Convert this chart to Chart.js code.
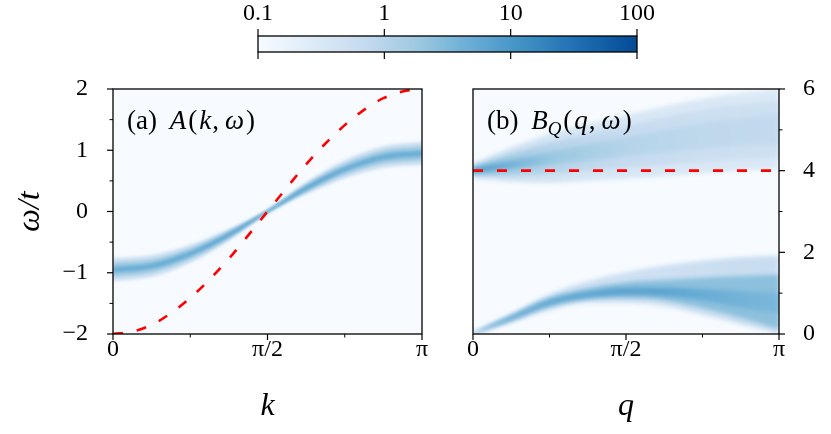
<!DOCTYPE html>
<html>
<head>
<meta charset="utf-8">
<script src="https://cdn.jsdelivr.net/npm/chart.js@4.4.1/dist/chart.umd.min.js"></script>
<style>
  html, body { margin: 0; padding: 0; background: #ffffff; }
  #wrap { position: relative; width: 831px; height: 434px; overflow: hidden; }
  #wrap canvas { position: absolute; left: 0; top: 0; }
</style>
</head>
<body>
<div id="wrap">
  <canvas id="cb" width="831" height="434"></canvas>
  <canvas id="pa" width="831" height="434"></canvas>
  <canvas id="pb" width="831" height="434"></canvas>
</div>
<script>
// ---------------- data ----------------
// colour scale (log norm)
const colorbarTicks = [0.1, 1, 10, 100];
const colorbarTickLabels = ['0.1', '1', '10', '100'];
const bluesStops = ['#f7fbff', '#deebf7', '#c6dbef', '#9ecae1', '#6baed6', '#4292c6', '#2171b5', '#08519c', '#08306b'];

// momentum grid, in units of π
const momentumGrid = [0, 0.125, 0.25, 0.375, 0.5, 0.625, 0.75, 0.875, 1];
const momentumTicks = [0, 0.5, 1];
const momentumTickLabels = ['0', 'π/2', 'π'];
const momentumMinorTicks = [0.25, 0.75];

// panel (a): A(k, ω)
const omegaTicksA = [-2, -1, 0, 1, 2];
const omegaMinorTicksA = [-1.5, -0.5, 0.5, 1.5];
const aBandCentre    = [-0.95, -0.89, -0.69, -0.38, 0.0, 0.38, 0.69, 0.89, 0.95];
const aHaloHalfWidth = [0.19, 0.18, 0.15, 0.10, 0.03, 0.10, 0.15, 0.18, 0.19];
const aMidHalfWidth  = [0.12, 0.11, 0.09, 0.06, 0.02, 0.06, 0.09, 0.11, 0.12];
const aCoreHalfWidth = [0.05, 0.05, 0.04, 0.03, 0.012, 0.03, 0.04, 0.05, 0.05];
const aHaloLevel = [0.5, 0.5, 0.5, 0.55, 0.7, 0.55, 0.5, 0.5, 0.5];
const aMidLevel  = [1.6, 1.6, 1.7, 2.2, 3.0, 2.2, 1.7, 1.6, 1.6];
const aCoreLevel = [4.5, 4.5, 5.0, 6.5, 10.0, 6.5, 5.0, 4.5, 4.5];
// free dispersion (red dashed)
const freeGrid = [0, 0.0625, 0.125, 0.1875, 0.25, 0.3125, 0.375, 0.4375, 0.5, 0.5625, 0.625, 0.6875, 0.75, 0.8125, 0.875, 0.9375, 1];
const freeDispersion = [-2, -1.96, -1.85, -1.66, -1.41, -1.11, -0.77, -0.39, 0, 0.39, 0.77, 1.11, 1.41, 1.66, 1.85, 1.96, 2];

// panel (b): B_Q(q, ω)
const omegaTicksB = [0, 2, 4, 6];
const omegaMinorTicksB = [1, 3, 5];
const bUpperCentre    = [4.0, 4.15, 4.3, 4.45, 4.58, 4.72, 4.85, 4.95, 5.02];
const bUpperHaloHW    = [0.18, 0.42, 0.6, 0.7, 0.78, 0.86, 0.92, 0.96, 0.98];
const bUpperMidHW     = [0.1, 0.26, 0.38, 0.45, 0.5, 0.58, 0.64, 0.68, 0.7];
const bUpperCoreHW    = [0.05, 0.1, 0.16, 0.2, 0.23, 0.27, 0.31, 0.35, 0.38];
const bUpperHaloLevel = [0.55, 0.45, 0.4, 0.36, 0.34, 0.32, 0.31, 0.3, 0.3];
const bUpperMidLevel  = [2.5, 1.5, 1.0, 0.8, 0.68, 0.6, 0.55, 0.52, 0.5];
const bUpperCoreLevel = [10, 4.0, 2.0, 1.4, 1.05, 0.9, 0.82, 0.77, 0.72];
const bLowerHaloTop    = [0.03, 0.5, 0.98, 1.3, 1.52, 1.68, 1.8, 1.88, 1.92];
const bLowerHaloBottom = [0.0, 0.28, 0.58, 0.76, 0.76, 0.68, 0.47, 0.24, 0.0];
const bLowerMidTop     = [0.02, 0.45, 0.88, 1.12, 1.27, 1.33, 1.38, 1.42, 1.45];
const bLowerMidBottom  = [0.0, 0.33, 0.67, 0.85, 0.88, 0.82, 0.63, 0.4, 0.12];
const bLowerCoreTop    = [0.01, 0.42, 0.82, 1.02, 1.13, 1.14, 1.1, 1.05, 1.0];
const bLowerCoreBottom = [0.0, 0.37, 0.73, 0.9, 0.96, 0.93, 0.82, 0.65, 0.5];
const bLowerHaloLevel = [0.6, 0.6, 0.55, 0.5, 0.5, 0.5, 0.55, 0.6, 0.6];
const bLowerMidLevel  = [3.0, 3.0, 2.8, 2.6, 2.5, 2.5, 2.5, 2.5, 2.5];
const bLowerCoreLevel = [8.0, 7.5, 7.0, 7.0, 7.0, 6.5, 5.0, 4.0, 3.4];
const bReferenceLevel = 4;

// ---------------- styling helpers ----------------
const FONT = "'Liberation Serif', serif";
const CMAP_TOP = 0.9;
Chart.defaults.font.family = FONT;
Chart.defaults.color = '#000000';

const bluesRgb = bluesStops.map(h => [parseInt(h.slice(1, 3), 16), parseInt(h.slice(3, 5), 16), parseInt(h.slice(5, 7), 16)]);
function cmap(v) {
  const lo = Math.log10(colorbarTicks[0]);
  const hi = Math.log10(colorbarTicks[colorbarTicks.length - 1]);
  let t = (Math.log10(v) - lo) / (hi - lo);
  t = Math.max(0, Math.min(1, t)) * CMAP_TOP;
  const p = t * (bluesRgb.length - 1);
  const i = Math.min(bluesRgb.length - 2, Math.floor(p));
  const f = p - i;
  const c = bluesRgb[i].map((a, j) => Math.round(a + (bluesRgb[i + 1][j] - a) * f));
  return 'rgb(' + c[0] + ',' + c[1] + ',' + c[2] + ')';
}
function levelGradient(chart, grid, levels) {
  const xs = chart.scales && chart.scales.x;
  if (!xs || !chart.chartArea) return cmap(levels[0]);
  const g0 = grid[0], g1 = grid[grid.length - 1];
  const g = chart.ctx.createLinearGradient(xs.getPixelForValue(g0), 0, xs.getPixelForValue(g1), 0);
  grid.forEach((q, i) => g.addColorStop((q - g0) / (g1 - g0), cmap(levels[i])));
  return g;
}
function bandLayer(grid, top, bottom, levels, order) {
  const common = { borderWidth: 0, borderColor: 'rgba(0,0,0,0)', pointRadius: 0, order: order,
                   cubicInterpolationMode: 'monotone' };
  return [
    Object.assign({ data: grid.map((x, i) => ({ x: x, y: top[i] })), fill: false }, common),
    Object.assign({ data: grid.map((x, i) => ({ x: x, y: bottom[i] })), fill: '-1',
      backgroundColor: ctx => levelGradient(ctx.chart, grid, levels) }, common)
  ];
}
const plus = (a, b) => a.map((v, i) => v + b[i]);
const minus = (a, b) => a.map((v, i) => v - b[i]);
const fmtNum = v => (v < 0 ? '\u2212' + Math.abs(v) : String(v));

// frame, tick marks, background; the spectral bands are drawn with a soft blur
function frameTicks(marks, background, blurPx) {
  return {
    id: 'frameTicks',
    beforeDraw(chart) {
      if (!background) return;
      const { ctx, chartArea: a } = chart;
      ctx.save();
      ctx.fillStyle = background;
      ctx.fillRect(a.left, a.top, a.right - a.left, a.bottom - a.top);
      ctx.restore();
    },
    beforeDatasetsDraw(chart) {
      if (blurPx) chart.ctx.filter = 'blur(' + blurPx + 'px)';
    },
    beforeDatasetDraw(chart, args) {
      if (args.meta.order === 0) chart.ctx.filter = 'none';
    },
    afterDatasetsDraw(chart) {
      const { ctx, chartArea: a } = chart;
      ctx.filter = 'none';
      ctx.save();
      ctx.strokeStyle = '#000000';
      marks.forEach(m => {
        const s = chart.scales[m.scale];
        ctx.lineWidth = m.width;
        m.values.forEach(v => {
          const p = s.getPixelForValue(v);
          ctx.beginPath();
          if (m.side === 'bottom') { ctx.moveTo(p, a.bottom); ctx.lineTo(p, a.bottom + m.len); }
          else if (m.side === 'top') { ctx.moveTo(p, a.top); ctx.lineTo(p, a.top - m.len); }
          else if (m.side === 'left') { ctx.moveTo(a.left, p); ctx.lineTo(a.left - m.len, p); }
          else if (m.side === 'right') { ctx.moveTo(a.right, p); ctx.lineTo(a.right + m.len, p); }
          ctx.stroke();
        });
      });
      ctx.lineWidth = 1.3;
      ctx.strokeRect(a.left, a.top, a.right - a.left, a.bottom - a.top);
      ctx.restore();
    }
  };
}
function panelLabel(segments, dx, dy, size) {
  return {
    id: 'panelLabel',
    afterDatasetsDraw(chart) {
      const { ctx, chartArea: a } = chart;
      let x = a.left + dx;
      const y = a.top + dy;
      ctx.save();
      ctx.filter = 'none';
      ctx.fillStyle = '#000000';
      ctx.textAlign = 'left';
      ctx.textBaseline = 'alphabetic';
      segments.forEach(s => {
        const fs = s.sub ? size * 0.7 : size;
        ctx.font = (s.italic ? 'italic ' : '') + fs + 'px ' + FONT;
        ctx.fillText(s.text, x, y + (s.sub ? size * 0.22 : 0));
        x += ctx.measureText(s.text).width + (s.gap || 0);
      });
      ctx.restore();
    }
  };
}

const baseOpts = {
  responsive: false, animation: false, devicePixelRatio: 1, events: [],
  plugins: { legend: { display: false }, tooltip: { enabled: false }, colors: { enabled: false } }
};
const TICK_FONT = { size: 24 };
const TITLE_FONT = { size: 32, style: 'italic' };
const NO_GRID = { display: false, drawTicks: false };

function momentumAxis(title) {
  return {
    type: 'linear', min: 0, max: 1, position: 'bottom',
    grid: NO_GRID, border: { display: false },
    afterBuildTicks: s => { s.ticks = momentumTicks.map(v => ({ value: v })); },
    afterFit: s => { s.height = 100; },
    ticks: { autoSkip: false, maxRotation: 0, minRotation: 0, padding: 1, font: TICK_FONT,
             callback: v => momentumTickLabels[momentumTicks.indexOf(v)] },
    title: { display: true, text: title, font: TITLE_FONT, padding: { top: 0, bottom: 8 } }
  };
}

// ---------------- colour bar ----------------
new Chart(document.getElementById('cb'), {
  type: 'bar',
  data: { labels: [''], datasets: [{
    data: [[colorbarTicks[0], colorbarTicks[colorbarTicks.length - 1]]],
    barPercentage: 1, categoryPercentage: 1, borderWidth: 0,
    backgroundColor: ctx => {
      const chart = ctx.chart, xs = chart.scales && chart.scales.x;
      if (!xs || !chart.chartArea) return cmap(1);
      const x0 = xs.getPixelForValue(colorbarTicks[0]);
      const x1 = xs.getPixelForValue(colorbarTicks[colorbarTicks.length - 1]);
      const g = chart.ctx.createLinearGradient(x0, 0, x1, 0);
      for (let i = 0; i <= 60; i++) {
        g.addColorStop(i / 60, cmap(Math.pow(10, Math.log10(colorbarTicks[0]) + i / 60 * 3)));
      }
      return g;
    }
  }] },
  options: Object.assign({}, baseOpts, {
    indexAxis: 'y',
    layout: { padding: { left: 258, right: 194, top: 0, bottom: 382 } },
    scales: {
      x: { type: 'logarithmic', position: 'top', min: 0.1, max: 100,
           grid: NO_GRID, border: { display: false },
           afterBuildTicks: s => { s.ticks = colorbarTicks.map(v => ({ value: v })); },
           afterFit: s => { s.height = 36; },
           ticks: { autoSkip: false, maxRotation: 0, padding: 8, font: TICK_FONT,
                    callback: (v, i) => colorbarTickLabels[i] } },
      y: { display: false }
    }
  }),
  plugins: [frameTicks([
    { scale: 'x', values: colorbarTicks, side: 'top', len: 7, width: 1.2 },
    { scale: 'x', values: colorbarTicks, side: 'bottom', len: 7, width: 1.2 }
  ], null, 0)]
});

// ---------------- panel (a) ----------------
const redDash = { borderColor: '#ff0000', borderWidth: 2.6, borderDash: [10, 14], pointRadius: 0,
                  fill: false, order: 0, clip: 0 };
new Chart(document.getElementById('pa'), {
  type: 'line',
  data: { datasets: [].concat(
    bandLayer(momentumGrid, plus(aBandCentre, aHaloHalfWidth), minus(aBandCentre, aHaloHalfWidth), aHaloLevel, 3),
    bandLayer(momentumGrid, plus(aBandCentre, aMidHalfWidth), minus(aBandCentre, aMidHalfWidth), aMidLevel, 2),
    bandLayer(momentumGrid, plus(aBandCentre, aCoreHalfWidth), minus(aBandCentre, aCoreHalfWidth), aCoreLevel, 1),
    [Object.assign({ data: freeGrid.map((x, i) => ({ x: x, y: freeDispersion[i] })),
                     cubicInterpolationMode: 'monotone' }, redDash)]
  ) },
  options: Object.assign({}, baseOpts, {
    layout: { padding: { left: 0, top: 89, right: 409, bottom: 0 } },
    scales: {
      x: momentumAxis('k'),
      y: { type: 'linear', min: -2, max: 2, position: 'left',
           grid: NO_GRID, border: { display: false },
           afterBuildTicks: s => { s.ticks = omegaTicksA.map(v => ({ value: v })); },
           afterFit: s => { s.width = 113; },
           ticks: { autoSkip: false, padding: 25, font: TICK_FONT, callback: v => fmtNum(v) },
           title: { display: true, text: 'ω/t', font: TITLE_FONT, padding: { top: 11, bottom: 0 } } }
    }
  }),
  plugins: [
    frameTicks([
      { scale: 'x', values: momentumTicks, side: 'bottom', len: 6, width: 1.2 },
      { scale: 'x', values: momentumMinorTicks, side: 'bottom', len: 3.5, width: 1.0 },
      { scale: 'y', values: omegaTicksA, side: 'left', len: 6, width: 1.2 },
      { scale: 'y', values: omegaMinorTicksA, side: 'left', len: 3.5, width: 1.0 }
    ], '#f7fbff', 1.6),
    panelLabel([
      { text: '(a) ', gap: 6 }, { text: 'A', italic: true, gap: 2 }, { text: '(', gap: 2 },
      { text: 'k', italic: true, gap: 1 }, { text: ',', gap: 6 }, { text: 'ω', italic: true, gap: 2 }, { text: ')' }
    ], 14, 40, 27)
  ]
});

// ---------------- panel (b) ----------------
new Chart(document.getElementById('pb'), {
  type: 'line',
  data: { datasets: [].concat(
    bandLayer(momentumGrid, plus(bUpperCentre, bUpperHaloHW), minus(bUpperCentre, bUpperHaloHW), bUpperHaloLevel, 3),
    bandLayer(momentumGrid, plus(bUpperCentre, bUpperMidHW), minus(bUpperCentre, bUpperMidHW), bUpperMidLevel, 2),
    bandLayer(momentumGrid, plus(bUpperCentre, bUpperCoreHW), minus(bUpperCentre, bUpperCoreHW), bUpperCoreLevel, 1),
    bandLayer(momentumGrid, bLowerHaloTop, bLowerHaloBottom, bLowerHaloLevel, 3),
    bandLayer(momentumGrid, bLowerMidTop, bLowerMidBottom, bLowerMidLevel, 2),
    bandLayer(momentumGrid, bLowerCoreTop, bLowerCoreBottom, bLowerCoreLevel, 1),
    [Object.assign({ data: [{ x: momentumTicks[0], y: bReferenceLevel },
                            { x: momentumTicks[momentumTicks.length - 1], y: bReferenceLevel }] }, redDash)]
  ) },
  options: Object.assign({}, baseOpts, {
    layout: { padding: { left: 473, top: 89, right: 0, bottom: 0 } },
    scales: {
      x: momentumAxis('q'),
      y: { type: 'linear', min: 0, max: 6, position: 'right',
           grid: NO_GRID, border: { display: false },
           afterBuildTicks: s => { s.ticks = omegaTicksB.map(v => ({ value: v })); },
           afterFit: s => { s.width = 52; },
           ticks: { autoSkip: false, padding: 24, font: TICK_FONT, callback: v => fmtNum(v) } }
    }
  }),
  plugins: [
    frameTicks([
      { scale: 'x', values: momentumTicks, side: 'bottom', len: 6, width: 1.2 },
      { scale: 'x', values: momentumMinorTicks, side: 'bottom', len: 3.5, width: 1.0 },
      { scale: 'y', values: omegaTicksB, side: 'right', len: 6, width: 1.2 },
      { scale: 'y', values: omegaMinorTicksB, side: 'right', len: 3.5, width: 1.0 }
    ], '#f7fbff', 2.2),
    panelLabel([
      { text: '(b) ', gap: 6 }, { text: 'B', italic: true, gap: 0 }, { text: 'Q', italic: true, sub: true, gap: 2 },
      { text: '(', gap: 2 }, { text: 'q', italic: true, gap: 1 }, { text: ',', gap: 6 },
      { text: 'ω', italic: true, gap: 2 }, { text: ')' }
    ], 14, 40, 27)
  ]
});
</script>
</body>
</html>
